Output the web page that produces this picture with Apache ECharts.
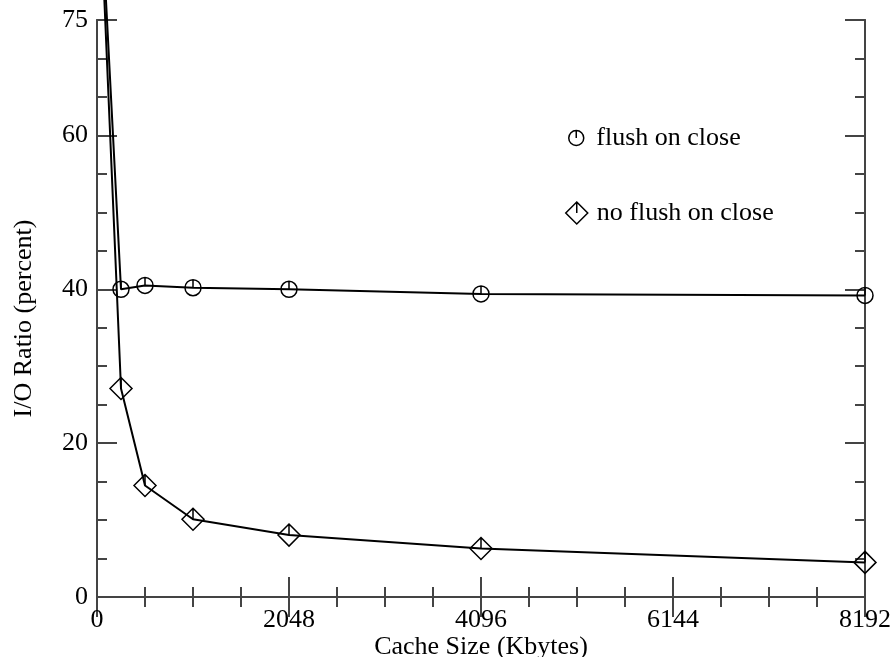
<!DOCTYPE html>
<html>
<head>
<meta charset="utf-8">
<script src="https://cdn.jsdelivr.net/npm/echarts@6/dist/echarts.min.js"></script>
<style>
  html, body { margin: 0; padding: 0; background: #fff; overflow: hidden; }
  #chart { width: 894px; height: 657px; }
</style>
</head>
<body>
<div id="chart"></div>
<script>
// Cache size in Kbytes and the measured I/O ratio (percent) for each policy
const cacheSizes = [0, 256, 512, 1024, 2048, 4096, 8192];
const flushOnClose = [100, 40.0, 40.5, 40.2, 40.0, 39.4, 39.2];
const noFlushOnClose = [100, 27.1, 14.5, 10.1, 8.05, 6.3, 4.5];
const seriesNames = ['flush on close', 'no flush on close'];

// Open markers with a short stroke from the top down to the centre
const circleMark = 'path://M50,0 A50,50 0 1,1 50,100 A50,50 0 1,1 50,0 Z M50,0 L50,50';
const diamondMark = 'path://M50,0 L100,50 L50,100 L0,50 Z M50,0 L50,50';

const FONT = '"Liberation Serif", "Times New Roman", serif';
const FRAME = '#444';
const FS = 26;

function pairs(ys) {
  return cacheSizes.map((x, i) => [x, ys[i]]);
}

function plain(v) { return String(v); }

function frameAxis(extra) {
  return Object.assign({
    type: 'value',
    axisLine: { show: true, lineStyle: { color: FRAME, width: 2 } },
    axisTick: { show: true, inside: true, length: 20, lineStyle: { color: FRAME, width: 2 } },
    splitLine: { show: false },
    axisLabel: { show: false }
  }, extra);
}

const xCommon = { min: 0, max: 8192, interval: 2048,
  minorTick: { show: true, splitNumber: 4, length: 10, lineStyle: { color: FRAME, width: 2 } } };
const yMajor = { min: 0, max: 75, interval: 20 };
const yMinor = { min: 0, max: 75, interval: 5 };
const shortTick = { show: true, inside: true, length: 10, lineStyle: { color: FRAME, width: 2 } };

const chart = echarts.init(document.getElementById('chart'), null, { renderer: 'canvas' });

chart.setOption({
  animation: false,
  backgroundColor: '#fff',
  grid: { left: 97, right: 29, top: 20, bottom: 60, containLabel: false, outerBoundsMode: 'none' },
  textStyle: { fontFamily: FONT },
  xAxis: [
    frameAxis(Object.assign({}, xCommon, {
      position: 'bottom',
      name: 'Cache Size (Kbytes)',
      nameLocation: 'middle',
      nameGap: 37,
      nameMoveOverlap: false,
      nameTextStyle: { fontFamily: FONT, fontSize: FS, color: '#000' },
      axisLabel: { show: true, margin: 10, fontFamily: FONT, fontSize: FS, color: '#000', formatter: plain }
    })),
    frameAxis(Object.assign({}, xCommon, { position: 'top' }))
  ],
  yAxis: [
    frameAxis(Object.assign({}, yMajor, {
      position: 'left',
      name: 'I/O Ratio (percent)',
      nameLocation: 'middle',
      nameGap: 60,
      nameMoveOverlap: false,
      nameTextStyle: { fontFamily: FONT, fontSize: FS, color: '#000', padding: [0, 20, 0, 0] },
      axisLabel: { show: true, margin: 9, fontFamily: FONT, fontSize: FS, color: '#000',
                   padding: [10, 0, 0, 0], formatter: plain }
    })),
    frameAxis(Object.assign({}, yMinor, { position: 'left', axisTick: shortTick })),
    frameAxis(Object.assign({}, yMajor, { position: 'right' })),
    frameAxis(Object.assign({}, yMinor, { position: 'right', axisTick: shortTick }))
  ],
  legend: [
    {
      data: [{ name: seriesNames[0], icon: circleMark }],
      left: 563, top: 120,
      itemWidth: 30, itemHeight: 15,
      itemStyle: { color: 'rgba(0,0,0,0)', borderColor: '#000', borderWidth: 1.5 },
      textStyle: { fontFamily: FONT, fontSize: FS, color: '#000' }
    },
    {
      data: [{ name: seriesNames[1], icon: diamondMark }],
      left: 560, top: 195,
      itemWidth: 30, itemHeight: 22,
      itemStyle: { color: 'rgba(0,0,0,0)', borderColor: '#000', borderWidth: 1.5 },
      textStyle: { fontFamily: FONT, fontSize: FS, color: '#000' }
    }
  ],
  series: [
    {
      name: seriesNames[0],
      type: 'line',
      data: pairs(flushOnClose),
      clip: false,
      symbol: circleMark,
      symbolSize: 16,
      showAllSymbol: true,
      itemStyle: { color: 'rgba(0,0,0,0)', borderColor: '#000', borderWidth: 1.5 },
      lineStyle: { color: '#000', width: 2 },
      z: 3
    },
    {
      name: seriesNames[1],
      type: 'line',
      data: pairs(noFlushOnClose),
      clip: false,
      symbol: diamondMark,
      symbolSize: 22,
      showAllSymbol: true,
      itemStyle: { color: 'rgba(0,0,0,0)', borderColor: '#000', borderWidth: 1.5 },
      lineStyle: { color: '#000', width: 2 },
      z: 3
    }
  ]
});
</script>
</body>
</html>
